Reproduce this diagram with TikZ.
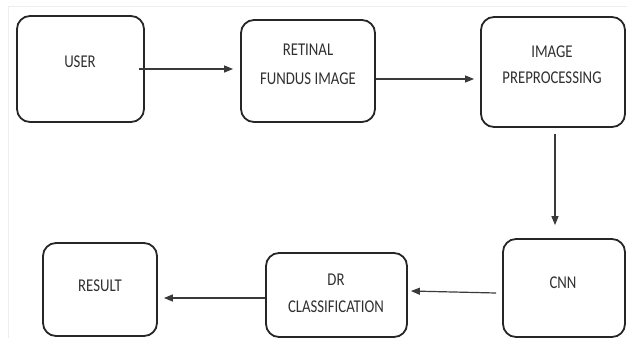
\documentclass[tikz,border=0pt]{standalone}
\usepackage{fontspec}
\newfontfamily\labfont[FakeStretch=0.82]{Carlito}
\usetikzlibrary{arrows.meta}
\definecolor{boxc}{HTML}{262626}
\definecolor{txtc}{HTML}{303030}
\definecolor{arrc}{HTML}{3A3A3A}
\tikzset{
  box/.style={draw=boxc, line width=1.8pt, rounded corners=13pt, inner sep=0pt},
  lab/.style={font=\labfont\fontsize{18}{28}\selectfont, text=txtc, align=center, inner sep=0pt},
  arr/.style={draw=arrc, line width=1.2pt, -{Triangle[length=9pt,width=7pt]}}
}
\begin{document}
\begin{tikzpicture}[x=1pt,y=-1pt]
\useasboundingbox (0,0) rectangle (627,338);
\draw[black!7, line width=1pt] (8,338) -- (8,6) -- (627,6);
% boxes
\node[box, minimum width=127pt, minimum height=106pt] (user) at (80.5,69) {};
\node[box, minimum width=134pt, minimum height=102pt] (ret) at (308,71) {};
\node[box, minimum width=144pt, minimum height=110pt] (pre) at (553,72) {};
\node[box, minimum width=122pt, minimum height=98pt] (cnn) at (564,288) {};
\node[box, minimum width=141pt, minimum height=84pt] (dr) at (336.5,295) {};
\node[box, minimum width=114pt, minimum height=93pt] (res) at (100,289.5) {};
% texts
\node[lab] (tuser) at (80,62) {USER};
\node[lab, font=\labfont\fontsize{18}{29}\selectfont] (tret) at (308,64.5) {RETINAL\\FUNDUS IMAGE};
\node[lab, font=\labfont\fontsize{18}{26}\selectfont] (tpre) at (552,65) {IMAGE\\PREPROCESSING};
\node[lab] (tcnn) at (563,283) {CNN};
\node[lab, font=\labfont\fontsize{18}{27}\selectfont] (tdr) at (336,293.5) {DR\\CLASSIFICATION};
\node[lab] (tres) at (100,286) {RESULT};
% connectors
\draw[arr] ([xshift=-6pt]user.east) -- ([xshift=-7pt]ret.west |- user.east);
\draw[arr] ([yshift=-8pt]ret.east) -- ([xshift=-6pt,yshift=-8pt]pre.west |- ret.east);
\draw[arr] ([xshift=2pt,yshift=-6pt]pre.south) -- ([xshift=2pt,yshift=13pt]pre.south |- cnn.north);
\draw[arr] ([xshift=-6pt,yshift=-5pt]cnn.west) -- ([xshift=3pt,yshift=4pt]dr.east);
\draw[arr] ([yshift=-3pt]dr.west) -- ([xshift=6pt,yshift=-3pt]res.east |- dr.west);
\end{tikzpicture}
\end{document}
